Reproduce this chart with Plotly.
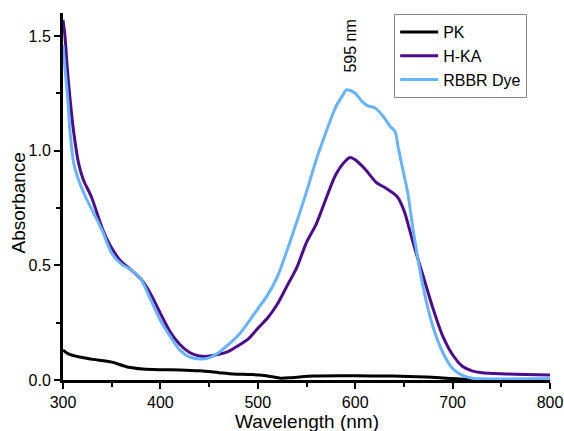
import plotly.graph_objects as go

# ---- data ----
pk_x = [300, 305, 317, 331, 350, 366, 382, 400, 420, 441, 460, 475, 490, 502, 515, 523, 535, 557, 600, 639, 673, 690, 705, 720, 750, 800]
pk_y = [0.13, 0.115, 0.10, 0.09, 0.078, 0.057, 0.048, 0.045, 0.044, 0.04, 0.032, 0.026, 0.024, 0.022, 0.014, 0.008, 0.01, 0.017, 0.018, 0.017, 0.013, 0.009, 0.005, 0.002, 0.002, 0.003]

hka_x = [300, 302, 304, 307, 311, 316, 321, 329, 341, 350, 360, 370, 380, 390, 400, 410, 420, 430, 440, 448, 460, 470, 480, 490, 500, 510, 520, 530, 540, 550, 560, 570, 580, 590, 595, 600, 610, 622, 632, 643, 650, 660, 670, 680, 690, 700, 710, 720, 730, 750, 775, 800]
hka_y = [1.57, 1.50, 1.38, 1.235, 1.08, 0.945, 0.872, 0.80, 0.654, 0.575, 0.515, 0.48, 0.44, 0.375, 0.29, 0.21, 0.155, 0.12, 0.105, 0.103, 0.112, 0.125, 0.15, 0.178, 0.225, 0.27, 0.33, 0.41, 0.49, 0.60, 0.68, 0.79, 0.895, 0.955, 0.97, 0.96, 0.92, 0.86, 0.835, 0.80, 0.74, 0.59, 0.45, 0.31, 0.19, 0.11, 0.06, 0.04, 0.032, 0.027, 0.024, 0.022]

dye_x = [300, 302, 305, 307, 311, 316, 323, 340, 350, 360, 370, 380, 390, 400, 410, 420, 430, 444, 452, 460, 470, 480, 490, 500, 510, 520, 530, 540, 550, 560, 570, 580, 587, 591, 595, 600, 607, 613, 620, 629, 636, 641, 644, 649, 654, 660, 670, 680, 690, 700, 710, 720, 730, 760, 800]
dye_y = [1.46, 1.36, 1.22, 1.09, 0.945, 0.872, 0.80, 0.654, 0.553, 0.505, 0.48, 0.44, 0.35, 0.26, 0.19, 0.13, 0.10, 0.092, 0.10, 0.12, 0.155, 0.195, 0.25, 0.31, 0.37, 0.45, 0.565, 0.69, 0.82, 0.96, 1.08, 1.19, 1.24, 1.265, 1.262, 1.25, 1.215, 1.195, 1.187, 1.148, 1.105, 1.083, 1.017, 0.916, 0.815, 0.64, 0.40, 0.23, 0.12, 0.05, 0.02, 0.008, 0.005, 0.004, 0.005]

names = ["PK", "H-KA", "RBBR Dye"]
colors = ["#000000", "#4b0c8e", "#66b3ff"]
peak_label = "595 nm"
peak_x = 595
peak_y = 1.455
x_title = "Wavelength (nm)"
y_title = "Absorbance"

x_ticks = [300, 400, 500, 600, 700, 800]
y_ticks = [0.0, 0.5, 1.0, 1.5]

fig = go.Figure()
for xs, ys, nm, col in zip([pk_x, hka_x, dye_x], [pk_y, hka_y, dye_y], names, colors):
    fig.add_trace(go.Scatter(x=xs, y=ys, name=nm, mode="lines",
                             line=dict(color=col, width=3, shape="spline", smoothing=0.8)))

fig.add_annotation(x=peak_x, y=peak_y, text=peak_label, showarrow=False,
                   textangle=-90, font=dict(size=16, color="black"))
# axis titles
fig.add_annotation(x=0.5, y=-0.1125, xref="paper", yref="paper", text=x_title,
                   showarrow=False, xanchor="center", yanchor="middle", font=dict(size=19))
fig.add_annotation(x=-0.0924, y=0.481, xref="paper", yref="paper", text=y_title,
                   showarrow=False, textangle=-90, xanchor="center", yanchor="middle",
                   font=dict(size=19))

fig.update_layout(
    width=564, height=431,
    margin=dict(l=63, r=14, t=13, b=51, autoexpand=False),
    paper_bgcolor="white", plot_bgcolor="white",
    font=dict(family="Liberation Sans, Arial", size=16, color="black"),
    legend=dict(x=0.68, y=0.997, xanchor="left", yanchor="top",
                bordercolor="#888888", borderwidth=1, bgcolor="white",
                font=dict(size=16), tracegroupgap=0, itemwidth=38),
    showlegend=True,
)
fig.update_xaxes(
    range=[300, 800], tickvals=x_ticks, showgrid=False, zeroline=False, automargin=False,
    showline=True, linecolor="black", linewidth=3,
    ticks="outside", ticklen=6, tickwidth=2, tickcolor="black",
    minor=dict(dtick=50, tick0=300, ticks="outside", ticklen=4, tickwidth=2, tickcolor="black"),
)
fig.update_yaxes(
    range=[0, 1.6], tickvals=y_ticks, tickformat=".1f", showgrid=False, zeroline=False, automargin=False,
    showline=True, linecolor="black", linewidth=3,
    ticks="outside", ticklen=6, tickwidth=2, tickcolor="black",
    minor=dict(dtick=0.25, tick0=0, ticks="outside", ticklen=4, tickwidth=2, tickcolor="black"),
)

fig.write_html("out.html", config={"displayModeBar": False},
               post_script="document.body.style.margin='0';document.body.style.overflow='hidden';")
